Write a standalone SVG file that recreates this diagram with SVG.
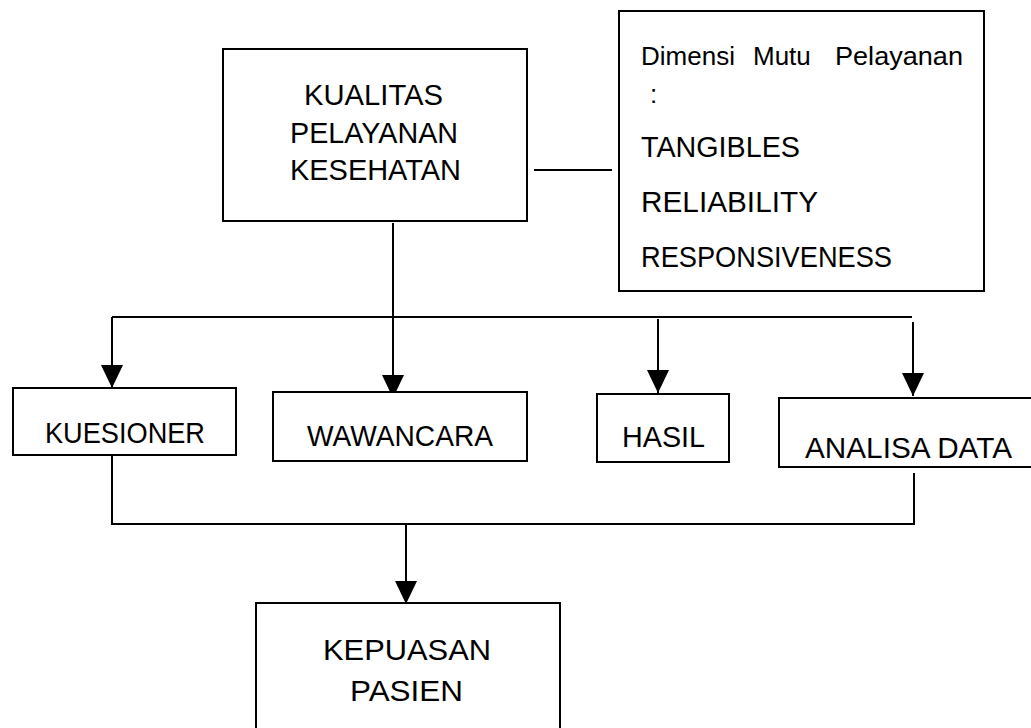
<svg xmlns="http://www.w3.org/2000/svg" width="1031" height="728" viewBox="0 0 1031 728">
<style>
  .box { fill: #ffffff; stroke: #000000; stroke-width: 2; }
  .ln { fill: none; stroke: #000000; stroke-width: 2; }
  .t { font-family: "Liberation Sans", Arial, sans-serif; font-size: 30px; fill: #000000; }
  .s { font-family: "Liberation Sans", Arial, sans-serif; font-size: 26px; fill: #000000; }
</style>
<defs>
  <marker id="ah" markerUnits="userSpaceOnUse" markerWidth="23" markerHeight="22" viewBox="0 0 23 22" refX="23" refY="11" orient="auto">
    <path d="M0,0 L23,11 L0,22 Z" fill="#000000"/>
  </marker>
</defs>

<g id="connectors">
  <line class="ln" x1="534" y1="170" x2="612" y2="170"/>
  <line class="ln" x1="112" y1="317" x2="912" y2="317"/>
  <line class="ln" x1="393" y1="223" x2="393" y2="398" marker-end="url(#ah)"/>
  <line class="ln" x1="112" y1="317" x2="112" y2="388" marker-end="url(#ah)"/>
  <line class="ln" x1="658" y1="319" x2="658" y2="393" marker-end="url(#ah)"/>
  <line class="ln" x1="913" y1="322" x2="913" y2="396" marker-end="url(#ah)"/>
  <line class="ln" x1="112" y1="455" x2="112" y2="524"/>
  <line class="ln" x1="914" y1="473" x2="914" y2="524"/>
  <line class="ln" x1="111" y1="524" x2="915" y2="524"/>
  <line class="ln" x1="406" y1="524" x2="406" y2="604" marker-end="url(#ah)"/>
</g>

<g id="kualitas">
  <rect class="box" x="223" y="49" width="304" height="172"/>
  <text class="t" x="304" y="105" textLength="139" lengthAdjust="spacingAndGlyphs">KUALITAS</text>
  <text class="t" x="290" y="143" textLength="168" lengthAdjust="spacingAndGlyphs">PELAYANAN</text>
  <text class="t" x="290" y="180" textLength="171" lengthAdjust="spacingAndGlyphs">KESEHATAN</text>
</g>

<g id="dimensi">
  <rect class="box" x="619" y="11" width="365" height="280"/>
  <text class="s" y="65"><tspan x="641">Dimensi</tspan><tspan x="753">Mutu</tspan><tspan x="835" textLength="128" lengthAdjust="spacingAndGlyphs">Pelayanan</tspan></text>
  <text class="s" x="650" y="103">:</text>
  <text class="t" x="641" y="157" textLength="159" lengthAdjust="spacingAndGlyphs">TANGIBLES</text>
  <text class="t" x="641" y="212" textLength="177" lengthAdjust="spacingAndGlyphs">RELIABILITY</text>
  <text class="t" x="641" y="267" textLength="251" lengthAdjust="spacingAndGlyphs">RESPONSIVENESS</text>
</g>

<g id="kuesioner">
  <rect class="box" x="13" y="388" width="223" height="67"/>
  <text class="t" x="45" y="443" textLength="160" lengthAdjust="spacingAndGlyphs">KUESIONER</text>
</g>

<g id="wawancara">
  <rect class="box" x="273" y="392" width="254" height="69"/>
  <text class="t" x="307" y="446" textLength="186" lengthAdjust="spacingAndGlyphs">WAWANCARA</text>
</g>

<g id="hasil">
  <rect class="box" x="597" y="394" width="132" height="68"/>
  <text class="t" x="622" y="447" textLength="83" lengthAdjust="spacingAndGlyphs">HASIL</text>
</g>

<g id="analisa">
  <rect class="box" x="779" y="398" width="260" height="69"/>
  <text class="t" x="805" y="458" textLength="207" lengthAdjust="spacingAndGlyphs">ANALISA DATA</text>
</g>

<g id="kepuasan">
  <rect class="box" x="256" y="603" width="304" height="140"/>
  <text class="t" x="323" y="660" textLength="168" lengthAdjust="spacingAndGlyphs">KEPUASAN</text>
  <text class="t" x="350" y="701" textLength="113" lengthAdjust="spacingAndGlyphs">PASIEN</text>
</g>
</svg>
